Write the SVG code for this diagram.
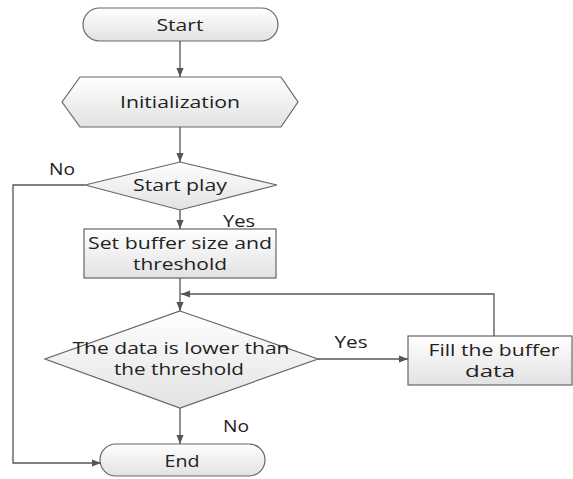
<svg xmlns="http://www.w3.org/2000/svg" width="573" height="479" viewBox="0 0 573 479">
<defs>
<linearGradient id="g" x1="0" y1="0" x2="0" y2="1">
<stop offset="0" stop-color="#ffffff"/>
<stop offset="1" stop-color="#e2e2e2"/>
</linearGradient>
<marker id="arr" viewBox="0 0 10 10" refX="10" refY="5" markerWidth="9" markerHeight="9" markerUnits="userSpaceOnUse" orient="auto">
<path d="M0,1 L10,5 L0,9 z" fill="#555"/>
</marker>
</defs>
<style>
.s{fill:url(#g);stroke:#666;stroke-width:1.2}
.t{font-family:"Open Sans",sans-serif;font-size:17px;fill:#222;text-anchor:middle}
.c{fill:none;stroke:#555;stroke-width:1.3;marker-end:url(#arr)}
</style>
<rect width="573" height="479" fill="#fff"/>
<g id="start">
<rect class="s" x="83" y="8" width="195" height="33" rx="16.5"/>
<text class="t" x="180" y="31" textLength="47" lengthAdjust="spacingAndGlyphs">Start</text>
</g>
<g id="init">
<polygon class="s" points="62,102 80,77 281,77 298,102 281,127 80,127"/>
<text class="t" x="180" y="108" textLength="120" lengthAdjust="spacingAndGlyphs">Initialization</text>
</g>
<g id="startplay">
<polygon class="s" points="180,162 277,185 180,210 85,185"/>
<text class="t" x="180" y="191" textLength="94" lengthAdjust="spacingAndGlyphs">Start play</text>
</g>
<g id="setbuf">
<rect class="s" x="84" y="229" width="192" height="49"/>
<text class="t" x="180" y="249" textLength="184" lengthAdjust="spacingAndGlyphs">Set buffer size and</text>
<text class="t" x="180" y="270" textLength="94" lengthAdjust="spacingAndGlyphs">threshold</text>
</g>
<g id="check">
<polygon class="s" points="180,311 318,359 180,408 45,359"/>
<text class="t" x="181" y="354" textLength="217" lengthAdjust="spacingAndGlyphs">The data is lower than</text>
<text class="t" x="179" y="375" textLength="130" lengthAdjust="spacingAndGlyphs">the threshold</text>
</g>
<g id="fill">
<rect class="s" x="408" y="336" width="164" height="49"/>
<text class="t" x="494" y="356" textLength="131" lengthAdjust="spacingAndGlyphs">Fill the buffer</text>
<text class="t" x="490" y="377" textLength="50" lengthAdjust="spacingAndGlyphs">data</text>
</g>
<g id="end">
<rect class="s" x="100" y="444" width="165" height="32" rx="16"/>
<text class="t" x="182" y="467" textLength="35" lengthAdjust="spacingAndGlyphs">End</text>
</g>
<g id="connectors">
<path class="c" d="M180,41 V77"/>
<path class="c" d="M180,127 V162"/>
<path class="c" d="M180,210 V229"/>
<path class="c" d="M180,278 V311"/>
<path class="c" d="M180,408 V444"/>
<path class="c" d="M318,359 H408"/>
<path class="c" d="M494,336 V294 H181"/>
<path class="c" d="M85,185 H13 V463 H101"/>
<text class="t" x="62" y="175" textLength="26" lengthAdjust="spacingAndGlyphs">No</text>
<text class="t" x="239" y="227" textLength="32" lengthAdjust="spacingAndGlyphs">Yes</text>
<text class="t" x="351" y="348" textLength="33" lengthAdjust="spacingAndGlyphs">Yes</text>
<text class="t" x="236" y="432" textLength="26" lengthAdjust="spacingAndGlyphs">No</text>
</g>
</svg>
